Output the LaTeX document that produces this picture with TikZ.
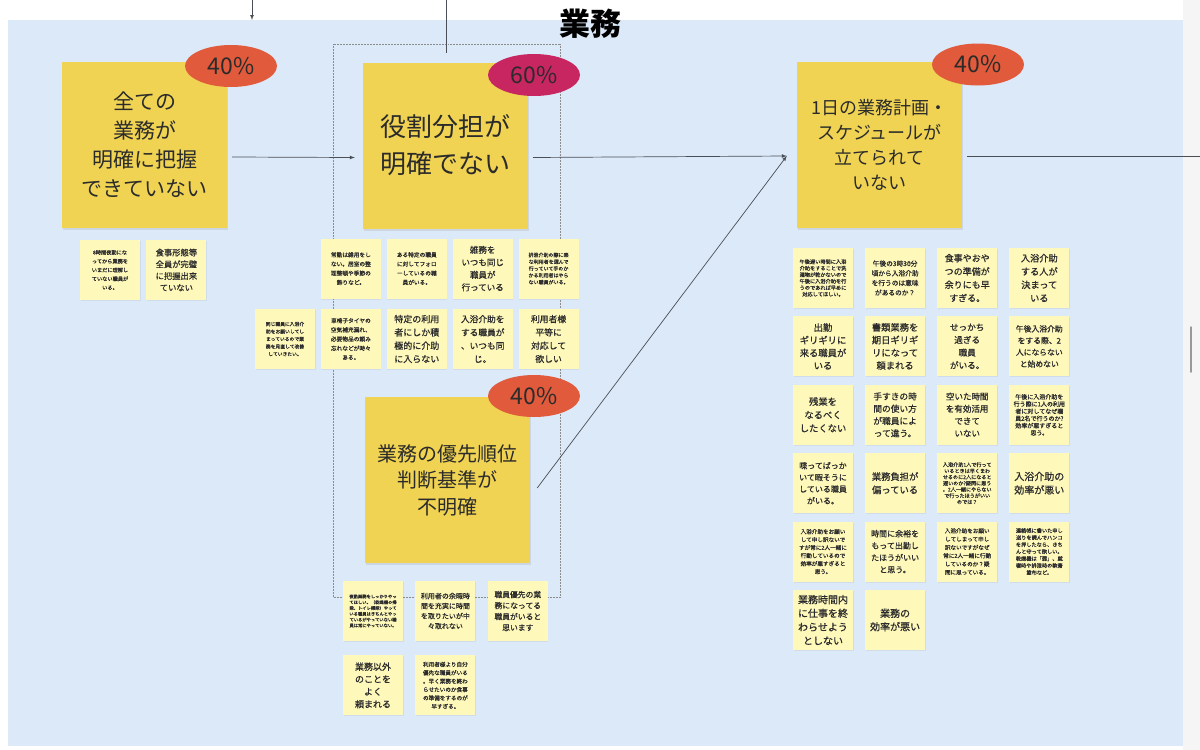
\documentclass[tikz,border=0pt]{standalone}
\usepackage{fontspec}
\setmainfont{Noto Sans CJK JP}
\newfontfamily\notefont{Noto Sans CJK JP}[BoldFont={Noto Sans CJK JP}, BoldFeatures={FakeBold=0.7}]
\usetikzlibrary{shapes.geometric,positioning,arrows,shadows}
\definecolor{bgblue}{HTML}{DCE9F8}
\definecolor{notey}{HTML}{F0D352}
\definecolor{stickey}{HTML}{FEF8BB}
\definecolor{pcred}{HTML}{E05A3B}
\definecolor{pcpink}{HTML}{C72660}
\definecolor{ink}{HTML}{2B2B2B}
\definecolor{linegray}{HTML}{4A4F57}
\tikzstyle{arrow} = [line width=0.7pt,->,>=latex,draw=linegray]
\tikzstyle{line} = [line width=0.7pt,draw=linegray]
\tikzset{
 bn/.style
  = {rectangle, fill=notey, minimum width=165pt, minimum height=166pt, inner sep=2pt,
     align=center, text=ink, drop shadow={opacity=0.18, shadow xshift=0.5pt, shadow yshift=-2pt}},
 sn/.style
  = {rectangle, fill=stickey, minimum width=60pt, minimum height=60pt, inner sep=2pt,
     align=center, text=ink, node distance=6pt,
     drop shadow={opacity=0.12, shadow xshift=0.5pt, shadow yshift=-1pt}},
 pc/.style
  = {ellipse, minimum width=92pt, minimum height=42pt, inner sep=0pt, text=ink,
     font=\fontsize{23}{23}\selectfont},
 fs/.style 2 args
  = {font=\notefont\bfseries\fontsize{#1}{#2}\selectfont},
 fb/.style 2 args
  = {font=\fontsize{#1}{#2}\selectfont},
}
\begin{document}
\begin{tikzpicture}[x=1pt,y=-1pt]
    \useasboundingbox (0,0) rectangle (1200,750);
    \fill [white] (0,0) rectangle (1200,750);
    \fill [bgblue] (8,20) rectangle (1183,746);
    \fill [black!4] (1183,0) rectangle (1200,750);
    \draw [black!40, line width=1.5pt, line cap=round] (1191,327) -- (1191,372);
    \draw [black!45, densely dotted, line width=0.5pt] (333,44) rectangle (560,597);

    \node [font=\fontsize{31}{31}\selectfont\bfseries, text=black] (title) at (590,24) {業務};

    % big notes
    \node [bn, fb={21}{29}] (grasp) at (144.5,145) {全ての\\業務が\\明確に把握\\できていない};
    \node [bn, fb={26}{37}] (role) at (445.5,145.5) {役割分担が\\明確でない};
    \node [bn, fb={18}{25}] (plan) at (879.5,145) {1日の業務計画・\\スケジュールが\\立てられて\\いない};
    \node [bn, fb={20}{26.5}] (prio) at (447.5,480) {業務の優先順位\\判断基準が\\不明確};

    \node [pc, fill=pcred] (pgrasp) at (231,66) {40\%};
    \node [pc, fill=pcpink] (prole) at (534,75) {60\%};
    \node [pc, fill=pcred] (pplan) at (978,64.5) {40\%};
    \node [pc, fill=pcred] (pprio) at (534,396) {40\%};

    % connectors
    \coordinate (topA) at (252,0);
    \coordinate (topAend) at (252,20);
    \coordinate (topB) at (446,0);
    \coordinate (topBend) at (446,53);
    \coordinate (cin) at ([xshift=-10pt,yshift=-11pt]plan.west);
    \coordinate (cout) at (1200,156);
    \path [arrow] (topA) -- (topAend);
    \path [line] (topB) -- (topBend);
    \path [arrow] ([xshift=5pt,yshift=-12pt]grasp.east) -- ([xshift=-8pt,yshift=-12pt]role.west);
    \path [arrow] ([xshift=5pt,yshift=-12pt]role.east) -- (cin);
    \path [arrow] ([xshift=7pt,yshift=-8pt]prio.east) -- (cin);
    \path [line] ([xshift=5pt,yshift=-11pt]plan.east) -- (cout);

    % left
    \node [sn, fs={5.2}{8.8}] (l1) at (110,270) {8時間夜勤にな\\ってから業務を\\いまだに理解し\\ていない職員が\\いる。};
    \node [sn, fs={8.3}{11.7}, right = of l1] (l2) {食事形態等\\全員が完璧\\に把握出来\\ていない};

    % middle
    \node [sn, fs={4.8}{7.5}] (m21) at (285,339) {同じ職員に入浴介\\助をお願いしてし\\まっているので業\\務を見直して改善\\していきたい。};
    \node [sn, fs={5.7}{9.2}, right = 5.5pt of m21] (m22) {車椅子タイヤの\\空気補充漏れ、\\必要物品の頼み\\忘れなどが時々\\ある。};
    \node [sn, fs={9}{13.3}, right = 5.5pt of m22] (m23) {特定の利用\\者にしか積\\極的に介助\\に入らない};
    \node [sn, fs={8.7}{13.3}, right = 5.5pt of m23] (m24) {入浴介助を\\する職員が\\、いつも同\\じ。};
    \node [sn, fs={8.8}{13.3}, right = 5.5pt of m24] (m25) {利用者様\\平等に\\対応して\\欲しい};
    \node [sn, fs={5.7}{9.2}, above = 10pt of m22] (m11) {常勤は雑用をし\\ない。居室の整\\理整頓や季節の\\飾りなど。};
    \node [sn, fs={5.7}{9.2}, above = 10pt of m23] (m12) {ある特定の職員\\に対してフォロ\\ーしているの職\\員がいる。};
    \node [sn, fs={8.5}{12.5}, above = 10pt of m24] (m13) {雑務を\\いつも同じ\\職員が\\行っている};
    \node [sn, fs={5}{6.8}, above = 10pt of m25] (m14) {排泄介助の際に楽\\な利用者を選んで\\行っていて手のか\\かる利用者はやら\\ない職員がいる。};

    % bottom
    \node [sn, fs={4.3}{5.8}] (b1) at (373,611) {夜勤業務をしっかりやっ\\てほしい。（乾燥機の掃\\除、トイレ掃除）やって\\いる職員はきちんとやっ\\ているがやっていない職\\員は常にやっていない。};
    \node [sn, fs={7}{10}, right = 12pt of b1] (b2) {利用者の余暇時\\間を充実に時間\\を取りたいが中\\々取れない};
    \node [sn, fs={7.8}{11}, right = 12pt of b2] (b3) {職員優先の業\\務になってる\\職員がいると\\思います};
    \node [sn, fs={9}{12.5}, below = 14pt of b1] (b4) {業務以外\\のことを\\よく\\頼まれる};
    \node [sn, fs={5.6}{8.4}, below = 14pt of b2] (b5) {利用者様より自分\\優先な職員がいる\\。早く業務を終わ\\らせたいのか食事\\の準備をするのが\\早すぎる。};

    % right
    \node [sn, fs={5.2}{6.5}] (r11) at (823,278) {午後遅い時間に入浴\\介助をすることで洗\\濯物が乾かないので\\午後に入浴介助を行\\うのであれば早めに\\対応してほしい。};
    \node [sn, fs={6.7}{9.7}, right = 11.7pt of r11] (r12) {午後の3時30分\\頃から入浴介助\\を行うのは意味\\があるのか？};
    \node [sn, fs={9}{13.3}, right = 11.7pt of r12] (r13) {食事やおや\\つの準備が\\余りにも早\\すぎる。};
    \node [sn, fs={9.2}{13.3}, right = 11.7pt of r13] (r14) {入浴介助\\する人が\\決まって\\いる};
    \node [sn, fs={9.3}{12.7}, below = 8pt of r11] (r21) {出勤\\ギリギリに\\来る職員が\\いる};
    \node [sn, fs={9.3}{12.7}, below = 8pt of r12] (r22) {書類業務を\\期日ギリギ\\リになって\\頼まれる};
    \node [sn, fs={8.6}{12.7}, below = 8pt of r13] (r23) {せっかち\\過ぎる\\職員\\がいる。};
    \node [sn, fs={7.8}{11.7}, below = 8pt of r14] (r24) {午後入浴介助\\をする際、2\\人にならない\\と始めない};
    \node [sn, fs={9.3}{13.3}, below = 8pt of r21] (r31) {残業を\\なるべく\\したくない};
    \node [sn, fs={8.7}{12.3}, below = 8pt of r22] (r32) {手すきの時\\間の使い方\\が職員によ\\って違う。};
    \node [sn, fs={8.5}{12.3}, below = 8pt of r23] (r33) {空いた時間\\を有効活用\\できて\\いない};
    \node [sn, fs={6}{7.2}, below = 8pt of r24] (r34) {午後に入浴介助を\\行う際に1人の利用\\者に対してなぜ職\\員2名で行うのか?\\効率が悪すぎると\\思う。};
    \node [sn, fs={8}{11.7}, below = 8pt of r31] (r41) {喋ってばっか\\いて暇そうに\\している職員\\がいる。};
    \node [sn, fs={9.3}{13.3}, below = 8pt of r32] (r42) {業務負担が\\偏っている};
    \node [sn, fs={5.1}{6.2}, below = 8pt of r33] (r43) {入浴介助1人で行って\\いるときは早くまわ\\せるのに2人になると\\遅いのか?疑問に思う\\。2人一緒にやらない\\で行ったほうがいい\\のでは？};
    \node [sn, fs={10}{13.5}, below = 8pt of r34] (r44) {入浴介助の\\効率が悪い};
    \node [sn, fs={5.6}{8}, below = 8pt of r41] (r51) {入浴介助をお願い\\して申し訳ないで\\すが常に2人一緒に\\行動しているので\\効率が悪すぎると\\思う。};
    \node [sn, fs={8}{12}, below = 8pt of r42] (r52) {時間に余裕を\\もって出勤し\\たほうがいい\\と思う。};
    \node [sn, fs={5.6}{8.3}, below = 8pt of r43] (r53) {入浴介助をお願い\\してしまって申し\\訳ないですがなぜ\\常に2人一緒に行動\\しているのか？疑\\問に思っている。};
    \node [sn, fs={5.2}{7}, below = 8pt of r44] (r54) {連絡帳に書いた申し\\送りを読んでハンコ\\を押したなら、きち\\んと守って欲しい。\\乾燥機は「弱」、就\\寝時や排泄時の軟膏\\塗布など。};
    \node [sn, fs={10}{13.7}, below = 8pt of r51] (r61) {業務時間内\\に仕事を終\\わらせよう\\としない};
    \node [sn, fs={10}{13.3}, below = 8pt of r52] (r62) {業務の\\効率が悪い};
  \end{tikzpicture}
\end{document}
